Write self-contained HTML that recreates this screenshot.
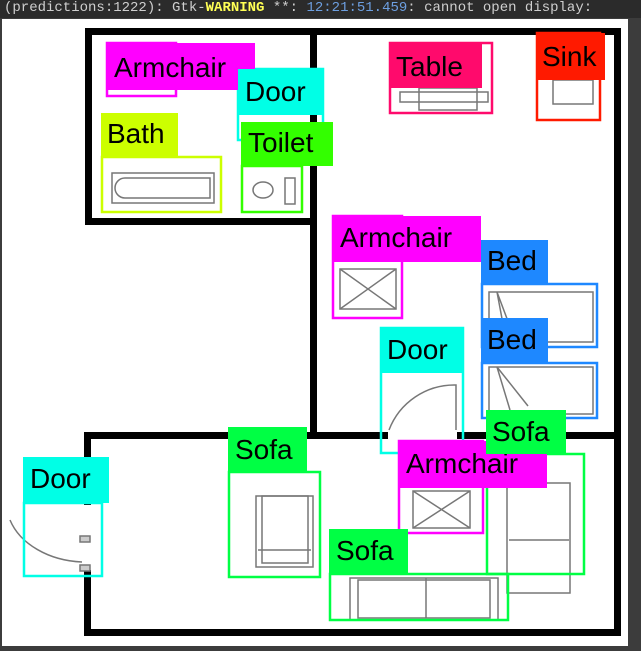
<!DOCTYPE html>
<html><head><meta charset="utf-8"><style>
body{margin:0;width:641px;height:651px;background:#3c3c3c;overflow:hidden;position:relative;font-family:"Liberation Sans",sans-serif}
#bar{position:absolute;left:0;top:0;width:641px;height:18px;background:#2b2b2b;color:#cfcfcf;font:14px "Liberation Mono",monospace;line-height:16px;white-space:nowrap;padding-left:4px}
svg{position:absolute;left:0;top:0}
</style></head><body>
<div id="bar">(predictions:1222): Gtk-<b style="color:#ffff55">WARNING</b> **: <span style="color:#6d9fe0">12:21:51.459</span>: cannot open display:</div>
<svg width="641" height="651" xmlns="http://www.w3.org/2000/svg">
<rect x="2" y="19" width="626" height="627" fill="#fff"/>
<g fill="#000">
<rect x="85" y="28" width="536" height="7"/>
<rect x="85" y="28" width="7" height="197"/>
<rect x="85" y="218" width="228" height="7"/>
<rect x="310" y="28" width="7" height="409"/>
<rect x="614" y="28" width="7" height="608"/>
<rect x="84" y="432" width="304" height="7"/>
<rect x="457" y="432" width="164" height="7"/>
<rect x="84" y="432" width="7" height="73"/>
<rect x="84" y="570" width="7" height="66"/>
<rect x="84" y="629" width="537" height="7"/>
</g>
<g fill="none" stroke="#777" stroke-width="1.5">
<rect x="112" y="173" width="102" height="30"/><path d="M125 178 h85 v20 h-85 a10 10 0 0 1 0-20"/>
<ellipse cx="263" cy="190" rx="10" ry="8"/><rect x="285" y="178" width="10" height="26"/>
<rect x="419" y="88" width="58" height="22"/><rect x="400" y="92" width="88" height="10"/>
<rect x="553" y="80" width="40" height="24"/>
<rect x="340" y="269" width="56" height="40"/><path d="M340 269 L396 309 M396 269 L340 309"/>
<rect x="489" y="292" width="104" height="50"/><path d="M497 292 L515 340 M497 292 L506 340"/>
<rect x="489" y="367" width="104" height="47"/><path d="M497 367 L528 406 M497 367 L510 410"/>
<path d="M389 430 A70 70 0 0 1 456 385 v45"/>
<rect x="413" y="491" width="57" height="37"/><path d="M413 491 L470 528 M470 491 L413 528"/>
<rect x="256" y="496" width="57" height="71"/><path d="M258 550 h53"/><rect x="262" y="496" width="46" height="67"/>
<rect x="507" y="483" width="63" height="110"/><path d="M509 540 h60"/>
<rect x="350" y="578" width="148" height="42"/><path d="M426 578 v40"/><rect x="358" y="580" width="132" height="38"/>
<path d="M10 520 A80 60 0 0 0 82 562"/><rect x="80" y="536" width="10" height="6" fill="#ccc"/><rect x="80" y="565" width="10" height="6" fill="#ccc"/>
</g>
<g fill="none" stroke-width="2.5">
<rect x="107" y="43" width="69" height="53" stroke="#f0f"/>
<rect x="238" y="69" width="85" height="71" stroke="#00ffe6"/>
<rect x="102" y="157" width="119" height="55" stroke="#ccff00"/>
<rect x="242" y="166" width="60" height="46" stroke="#33ff00"/>
<rect x="390" y="43" width="102" height="70" stroke="#ff0a6c"/>
<rect x="537" y="33" width="63" height="87" stroke="#ff1a00"/>
<rect x="333" y="216" width="69" height="102" stroke="#f0f"/>
<rect x="482" y="284" width="115" height="63" stroke="#1e88ff"/>
<rect x="482" y="363" width="115" height="55" stroke="#1e88ff"/>
<rect x="381" y="328" width="82" height="125" stroke="#00ffe6"/>
<rect x="399" y="441" width="84" height="92" stroke="#f0f"/>
<rect x="487" y="454" width="97" height="120" stroke="#00ff44"/>
<rect x="229" y="472" width="91" height="105" stroke="#00ff44"/>
<rect x="24" y="503" width="78" height="73" stroke="#00ffe6"/>
<rect x="330" y="574" width="178" height="46" stroke="#00ff44"/>
</g>
<g font-family="Liberation Sans,sans-serif" font-size="28" fill="#000">
<rect x="107" y="43" width="148" height="47" fill="#f0f"/><text x="114" y="77">Armchair</text>
<rect x="101" y="113" width="77" height="44" fill="#ccff00"/><text x="107" y="143">Bath</text>
<rect x="241" y="122" width="92" height="44" fill="#33ff00"/><text x="248" y="152">Toilet</text>
<rect x="238" y="69" width="85" height="46" fill="#00ffe6"/><text x="245" y="101">Door</text>
<rect x="389" y="43" width="93" height="45" fill="#ff0a6c"/><text x="396" y="76">Table</text>
<rect x="536" y="33" width="69" height="47" fill="#ff1a00"/><text x="542" y="66">Sink</text>
<rect x="332" y="216" width="149" height="46" fill="#f0f"/><text x="340" y="247">Armchair</text>
<rect x="481" y="240" width="67" height="43" fill="#1e88ff"/><text x="487" y="270">Bed</text>
<rect x="380" y="328" width="84" height="45" fill="#00ffe6"/><text x="387" y="359">Door</text>
<rect x="481" y="318" width="67" height="45" fill="#1e88ff"/><text x="487" y="349">Bed</text>
<rect x="398" y="441" width="149" height="47" fill="#f0f"/><text x="406" y="473">Armchair</text>
<rect x="486" y="410" width="80" height="44" fill="#00ff44"/><text x="492" y="441">Sofa</text>
<rect x="228" y="427" width="79" height="46" fill="#00ff44"/><text x="235" y="459">Sofa</text>
<rect x="23" y="457" width="86" height="46" fill="#00ffe6"/><text x="30" y="488">Door</text>
<rect x="329" y="529" width="79" height="45" fill="#00ff44"/><text x="336" y="560">Sofa</text>
</g>
</svg>
</body></html>
